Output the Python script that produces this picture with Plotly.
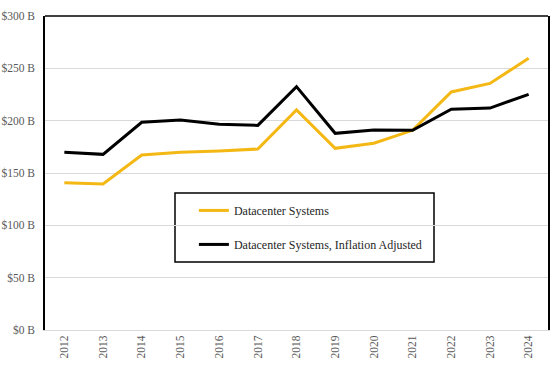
import plotly.graph_objects as go

years = [str(y) for y in range(2012, 2025)]
datacenter = [140.7, 139.5, 167.2, 169.8, 171.0, 172.9, 210.2, 173.6, 178.4, 190.8, 227.4, 235.6, 259.6]
inflation_adj = [169.8, 167.8, 198.4, 200.6, 196.5, 195.5, 232.5, 187.9, 191.0, 190.8, 211.0, 212.0, 225.2]
y_ticks = [0, 50, 100, 150, 200, 250, 300]
y_tick_labels = ["$%d B" % v for v in y_ticks]

FONT = "Liberation Serif"
GRAY = "#595959"

fig = go.Figure()
fig.add_trace(go.Scatter(x=years, y=datacenter, mode="lines", name="Datacenter Systems",
                         line=dict(color="#F4B815", width=3), legendgroup="a"))
fig.add_trace(go.Scatter(x=years, y=inflation_adj, mode="lines", name="Datacenter Systems, Inflation Adjusted",
                         line=dict(color="#000000", width=3), legendgroup="b"))

fig.update_layout(
    width=556, height=367,
    margin=dict(l=45, r=8, t=16, b=37, autoexpand=False),
    paper_bgcolor="white", plot_bgcolor="white",
    font=dict(family=FONT, size=11, color=GRAY),
    showlegend=True,
    legend=dict(x=0.296, y=0.427, xanchor="left", yanchor="top",
                bgcolor="rgba(0,0,0,0)", borderwidth=0,
                font=dict(family=FONT, size=12, color="#262626"),
                tracegroupgap=15, itemwidth=30),
    shapes=[
        dict(type="rect", xref="paper", yref="paper", x0=(175-45)/503, x1=(434-45)/503,
             y0=(330-262)/314, y1=(330-193)/314, line=dict(color="black", width=1.5),
             fillcolor="rgba(0,0,0,0)", layer="below"),
        dict(type="line", xref="paper", yref="paper", x0=0, x1=1, y0=1, y1=1,
             line=dict(color="black", width=1.5)),
    ],
)
fig.update_xaxes(type="category", tickangle=-90, showgrid=False, showline=True, automargin=False,
                 linecolor="#d9d9d9", linewidth=1, ticks="", tickfont=dict(size=11.5, color=GRAY),
                 range=[-0.5, 12.5])
fig.update_yaxes(range=[0, 300], tickvals=y_ticks, ticktext=y_tick_labels, automargin=False,
                 showgrid=True, gridcolor="#d9d9d9", gridwidth=1, ticklabelstandoff=6,
                 showline=True, linecolor="black", linewidth=1.5, mirror=True,
                 zeroline=False, ticks="", tickfont=dict(size=11.5, color=GRAY))

fig.write_html("out.html", config={"displayModeBar": False},
               post_script="document.body.style.margin='0';document.body.style.overflow='hidden';")
